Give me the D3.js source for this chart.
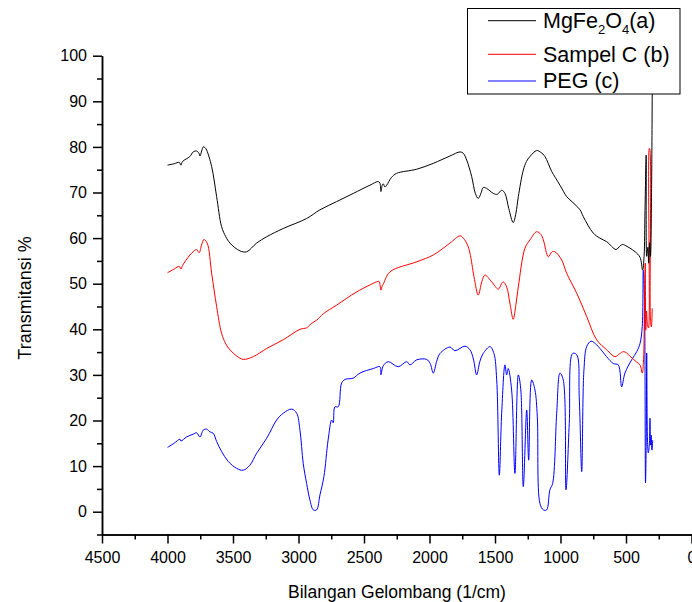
<!DOCTYPE html>
<html>
<head>
<meta charset="utf-8">
<script src="https://cdn.jsdelivr.net/npm/d3@7"></script>
<style>
  html, body { margin: 0; padding: 0; background: #fff; }
  svg { display: block; font-family: "Liberation Sans", Arial, sans-serif; }
</style>
</head>
<body>
<svg id="chart" width="692" height="602"></svg>
<script>
// ---- Data (wavenumber in 1/cm, transmittance in %) ----
const mgfeWn = [4000,3950,3910,3898,3885,3829,3804,3778,3760,3752,3735,3727,3712,3701,3663,3625,3587,3555,3523,3447,3396,3320,3243,3117,2938,2836,2709,2582,2455,2391,2378,2371,2360,2353,2340,2327,2290,2251,2098,1971,1844,1767,1742,1716,1678,1650,1628,1605,1590,1564,1513,1483,1449,1424,1395,1361,1340,1322,1284,1260,1233,1182,1150,1119,1067,1040,1004,953,928,851,826,750,700,647,576,545,525,500,470,430,393,373,362,355,346,342,333,327,320,313,305,298];
const mgfeT  = [76.0,76.3,76.6,76.0,76.8,77.9,78.9,79.1,78.6,78.0,79.5,80.0,79.8,79.3,75.7,69.1,62.5,60.3,58.9,57.2,57.0,58.9,60.3,62.1,64.3,66.2,68.0,69.8,71.6,72.4,72.0,70.2,71.7,71.9,71.2,71.6,73.3,74.2,75.1,76.4,78.0,78.9,78.6,77.1,73.5,69.8,68.7,70.0,71.1,70.9,69.8,69.6,70.5,69.8,66.5,63.4,65.5,69.1,74.9,76.8,77.9,79.2,78.8,77.9,74.6,73.3,71.6,69.1,68.4,66.2,64.7,61.1,60.0,59.2,57.5,58.3,58.6,58.3,57.8,57.0,55.8,53.0,56.0,66.0,78.2,56.0,58.0,54.5,59.0,56.0,70.0,102.0];

const sampelWn = [4000,3950,3910,3898,3885,3829,3804,3778,3758,3740,3722,3697,3663,3625,3587,3555,3523,3470,3422,3345,3243,3117,2989,2940,2926,2900,2862,2811,2709,2556,2403,2385,2371,2360,2353,2302,2098,1971,1844,1767,1742,1710,1691,1660,1628,1600,1577,1525,1475,1450,1437,1411,1385,1361,1340,1322,1271,1233,1182,1150,1131,1093,1065,1042,991,953,876,800,724,647,584,550,521,495,470,418,393,376,366,359,353,349,343,336,328,322,318,313,306,300];
const sampelT  = [52.4,53.2,53.8,53.2,54.0,56.3,57.0,57.5,56.8,58.5,59.7,58.9,52.3,45.0,39.1,36.8,35.5,34.1,33.4,34.0,35.8,37.7,40.0,40.3,40.6,41.3,42.0,43.4,45.3,48.2,50.4,50.5,48.6,49.6,49.9,52.6,54.8,56.3,58.9,60.5,60.0,58.5,56.7,51.5,47.5,50.5,51.9,50.4,48.8,50.0,50.4,49.3,45.5,42.2,45.5,49.3,57.8,59.6,61.4,60.8,59.6,55.9,57.0,57.0,55.2,52.3,47.9,42.8,37.7,35.5,34.0,34.6,35.1,34.8,34.1,32.8,32.2,30.4,33.3,46.0,54.5,39.8,44.0,41.0,40.3,79.7,79.5,42.0,40.5,44.6];

const pegWn = [4000,3950,3905,3898,3854,3804,3778,3752,3727,3701,3676,3651,3625,3587,3536,3472,3422,3371,3320,3243,3167,3116,3052,3014,2989,2964,2938,2913,2887,2862,2836,2806,2774,2747,2735,2722,2697,2671,2645,2582,2531,2429,2378,2371,2353,2315,2239,2174,2149,2098,2022,1995,1971,1945,1920,1844,1806,1729,1691,1665,1640,1615,1590,1538,1508,1487,1467,1449,1424,1411,1399,1373,1348,1322,1304,1284,1258,1243,1220,1195,1177,1157,1131,1106,1081,1060,1029,1004,979,958,933,907,876,857,838,821,800,767,724,699,597,559,533,508,457,418,393,376,368,359,351,345,342,336,330,322,317,313,308,302,296];
const pegT  = [14.1,15.0,15.9,15.5,16.4,17.0,17.3,16.4,17.9,18.1,17.5,17.2,15.4,13.2,11.0,9.5,9.1,10.2,12.8,16.1,20.1,21.6,22.5,21.6,17.9,10.6,6.2,2.6,0.4,0.4,3.7,7.7,15.7,20.1,19.5,23.0,23.0,28.2,29.0,29.3,30.4,31.4,31.8,30.0,32.0,32.9,31.8,32.9,32.2,33.3,33.4,32.5,30.4,33.0,34.7,36.1,35.3,36.3,35.5,33.5,30.0,33.0,34.7,36.2,34.7,28.9,8.0,21.6,32.2,30.0,31.4,26.7,8.4,30.0,27.1,5.5,22.3,11.3,28.9,26.7,20.8,1.8,0.4,0.4,4.8,6.2,21.6,30.4,28.9,4.8,19.4,34.7,34.4,25.2,8.8,31.1,36.2,37.4,36.6,35.8,32.5,32.2,27.4,30.4,33.3,35.1,36.9,40.6,53.0,46.4,6.3,17.9,34.8,15.7,12.9,14.6,20.5,14.6,16.8,13.5,15.7];

const seriesNames = ["MgFe2O4(a)", "Sampel C (b)", "PEG (c)"];
const seriesColors = ["#000000", "#ff0000", "#0000ff"];
const xMajorTicks = [4500,4000,3500,3000,2500,2000,1500,1000,500,0];
const xMinorTicks = [4250,3750,3250,2750,2250,1750,1250,750,250];
const yMajorTicks = [0,10,20,30,40,50,60,70,80,90,100];
const yMinorTicks = [-5,5,15,25,35,45,55,65,75,85,95];
const xTitle = "Bilangan Gelombang (1/cm)";
const yTitle = "Transmitansi %";

// ---- Chart ----
const svg = d3.select("#chart");
const x = d3.scaleLinear().domain([4500, 0]).range([102, 691.5]);
const y = d3.scaleLinear().domain([-5, 100]).range([534.5, 55.7]);

const series = [
  {wn: mgfeWn, t: mgfeT},
  {wn: sampelWn, t: sampelT},
  {wn: pegWn, t: pegT}
];

const line = d3.line()
  .x(d => x(d[0]))
  .y(d => y(d[1]))
  .curve(d3.curveCatmullRom.alpha(0.5));

// draw in order: blue, red, black? keep reference order
[2,1,0].forEach(i => {
  const pts = series[i].wn.map((w, k) => [w, series[i].t[k]]);
  svg.append("path")
    .datum(pts)
    .attr("fill", "none")
    .attr("stroke", seriesColors[i])
    .attr("stroke-width", 1)
    .attr("d", line);
});

// axes
const axisStyle = g => {
  g.selectAll("path, line").attr("stroke", "#000").attr("stroke-width", 1.5);
  g.selectAll("text").attr("fill", "#000").style("font-size", "16px")
    .style("font-family", "'Liberation Sans', Arial, sans-serif");
};

svg.append("g")
  .attr("transform", `translate(0,${y(-5)})`)
  .call(d3.axisBottom(x).tickValues(xMinorTicks).tickSize(5).tickSizeOuter(0).tickFormat(""))
  .call(axisStyle);
svg.append("g")
  .attr("transform", `translate(0,${y(-5)})`)
  .call(d3.axisBottom(x).tickValues(xMajorTicks).tickSize(9).tickSizeOuter(0).tickPadding(8).tickFormat(d3.format("d")))
  .call(axisStyle);

svg.append("g")
  .attr("transform", `translate(${x(4500)},0)`)
  .call(d3.axisLeft(y).tickValues(yMinorTicks).tickSize(5).tickSizeOuter(0).tickFormat(""))
  .call(axisStyle);
svg.append("g")
  .attr("transform", `translate(${x(4500)},0)`)
  .call(d3.axisLeft(y).tickValues(yMajorTicks).tickSize(9).tickSizeOuter(0).tickPadding(6).tickFormat(d3.format("d")))
  .call(axisStyle);

// axis titles
svg.append("text")
  .attr("x", 397).attr("y", 598)
  .attr("text-anchor", "middle")
  .style("font-size", "17.5px")
  .text(xTitle);
svg.append("text")
  .attr("transform", "translate(31,298) rotate(-90)")
  .attr("text-anchor", "middle")
  .style("font-size", "18px")
  .text(yTitle);

// legend
const lg = svg.append("g");
lg.append("rect")
  .attr("x", 467.5).attr("y", 8.5).attr("width", 212.5).attr("height", 85.5)
  .attr("fill", "#fff").attr("stroke", "#000").attr("stroke-width", 1);
const rowY = [20.7, 54.3, 81];
const baseY = [28.3, 61.7, 87.8];
rowY.forEach((ry, i) => {
  lg.append("line")
    .attr("x1", 488).attr("x2", 536).attr("y1", ry).attr("y2", ry)
    .attr("stroke", seriesColors[i]).attr("stroke-width", 1);
});
// MgFe2O4(a) with subscripts
const t0 = lg.append("text").attr("x", 543).attr("y", baseY[0]).style("font-size", "21.5px");
t0.append("tspan").text("MgFe");
t0.append("tspan").attr("dy", 6).style("font-size", "13px").text("2");
t0.append("tspan").attr("dy", -6).text("O");
t0.append("tspan").attr("dy", 6).style("font-size", "13px").text("4");
t0.append("tspan").attr("dy", -6).text("(a)");
lg.append("text").attr("x", 543).attr("y", baseY[1]).style("font-size", "21.5px").text(seriesNames[1]);
lg.append("text").attr("x", 543).attr("y", baseY[2]).style("font-size", "21.5px").text(seriesNames[2]);
</script>
</body>
</html>
